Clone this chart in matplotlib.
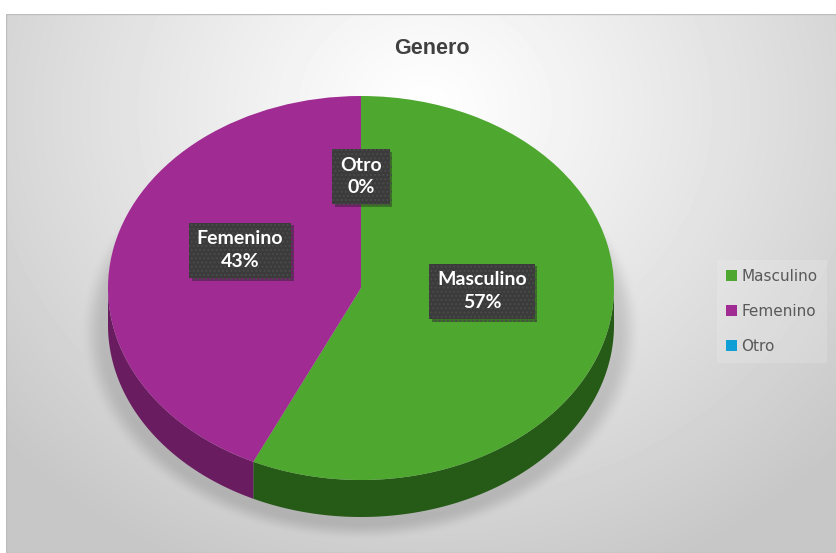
import numpy as np
import matplotlib.pyplot as plt
from matplotlib.patches import Polygon, Rectangle
import matplotlib.patheffects as pe

# datos del gráfico
categorias = ['Masculino', 'Femenino', 'Otro']
porcentajes = [57, 43, 0]
colores = ['#4EA72E', '#A02B93', '#0F9ED5']
colores_lado = ['#255A17', '#6A1C61', '#0A6A8F']

W, H = 837, 553
fig = plt.figure(figsize=(W / 100, H / 100), dpi=100, facecolor='white')

# fondo: degradado radial gris con sombra suave bajo el pastel
bg = fig.add_axes([6 / W, 0, (W - 6) / W, (H - 14) / H])
bg.set_axis_off()
yy, xx = np.mgrid[14:H, 6:W] + 0.5
dist = np.sqrt(((xx - 425) / 560) ** 2 + ((yy - 110) / 500) ** 2)
fondo = 1 - 0.22 * np.clip(dist, 0, 1) ** 1.1
rs = np.sqrt(((xx - 361) / 273) ** 2 + ((yy - 330) / 205) ** 2)
s = np.clip((rs - 0.94) / 0.09, 0, 1)
fondo -= 0.12 * (1 - s * s * (3 - 2 * s))
bg.imshow(fondo, cmap='gray', vmin=0, vmax=1, extent=(6, W, H, 14), aspect='auto')
bg.set_xlim(6, W)
bg.set_ylim(H, 14)
bg.add_patch(Rectangle((6, 14), W - 6, H - 14, fill=False, ec='#bdbdbd', lw=1))

# pastel 3D: la cara superior con ax.pie, aplastada en una elipse
prof = 37 / 192
ax = fig.add_axes([108 / W, (H - 517) / H, 506 / W, 421 / H])
wedges, _ = ax.pie(porcentajes, colors=colores, startangle=90, counterclock=False,
                   radius=1, wedgeprops=dict(linewidth=0))
ax.set_aspect('auto')
ax.set_xlim(-1, 1)
ax.set_ylim(-1 - prof, 1)
ax.set_axis_off()

# borde lateral (solo la mitad delantera)
for w, c in zip(wedges, colores_lado):
    for k in (-360, 0, 360):
        a = max(w.theta1, 180 + k)
        b = min(w.theta2, 360 + k)
        if b > a:
            t = np.radians(np.linspace(a, b, 120))
            xs, ys = np.cos(t), np.sin(t)
            pts = np.column_stack([np.r_[xs, xs[::-1]], np.r_[ys, ys[::-1] - prof]])
            ax.add_patch(Polygon(pts, closed=True, fc=c, ec='none', zorder=0.5))

# etiquetas de datos
total = sum(porcentajes)
for w, cat, v in zip(wedges, categorias, porcentajes):
    mid = np.radians((w.theta1 + w.theta2) / 2)
    x = 0.49 * np.cos(mid)
    y = 0.49 * np.sin(mid) + 0.09
    t = ax.text(x, y, f'{cat}\n{v / total:.0%}', ha='center', va='center',
                color='white', fontsize=14, fontweight='bold', family=['Lato', 'DejaVu Sans'],
                linespacing=1.4, zorder=5,
                bbox=dict(boxstyle='square,pad=0.4', fc='#3b3b3b', ec='#4a4a4a',
                          lw=0, hatch='....'))
    t.get_bbox_patch().set_path_effects([pe.SimplePatchShadow(offset=(2, -2), alpha=0.35),
                                         pe.Normal()])

# título
fig.text(432 / W, 1 - 48 / H, 'Genero', ha='center', va='center', fontsize=15.5,
         color='#404040', fontweight='bold',
         family=['Liberation Sans', 'DejaVu Sans'])

# leyenda
fig.legend(wedges, categorias, loc='upper left', bbox_to_anchor=(717 / W, 1 - 260 / H),
           borderaxespad=0, handlelength=0.7, handleheight=0.7, handletextpad=0.3,
           labelspacing=1.3, prop=dict(family='DejaVu Sans', size=11),
           labelcolor='#595959', frameon=True, facecolor='white', framealpha=0.15,
           edgecolor='none', fancybox=False, borderpad=0.6)

fig.savefig('out.png', dpi=100)
